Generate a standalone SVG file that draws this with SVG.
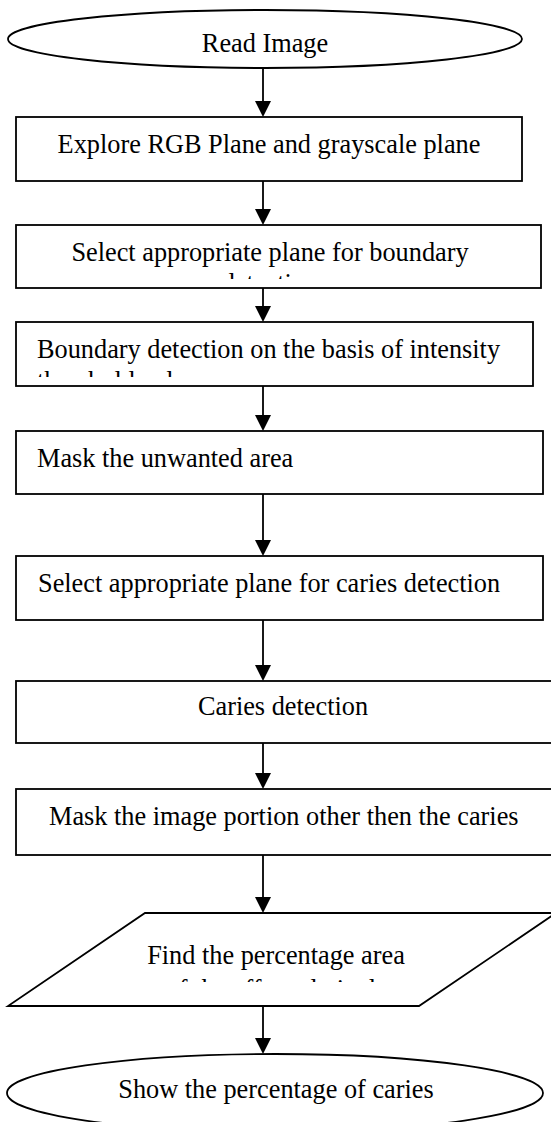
<svg xmlns="http://www.w3.org/2000/svg" width="551" height="1122" viewBox="0 0 551 1122">
<style>
.shape{fill:#fff;stroke:#000;stroke-width:1.8}
.t{font-family:"Liberation Serif","Times New Roman",serif;font-size:26.3px;fill:#000}
.c{text-anchor:middle}
.conn line{stroke:#000;stroke-width:1.8}
</style>
<defs>
<clipPath id="c2"><rect x="16" y="225" width="526" height="54"/></clipPath>
<clipPath id="c3"><rect x="16" y="322" width="518" height="55"/></clipPath>
<clipPath id="c9"><rect x="0" y="913" width="551" height="69"/></clipPath>
</defs>
<rect width="551" height="1122" fill="#fff"/>
<g id="connectors" class="conn">
<line x1="263" y1="68" x2="263" y2="104"/>
<line x1="263" y1="181" x2="263" y2="212"/>
<line x1="263" y1="288" x2="263" y2="309"/>
<line x1="263" y1="386" x2="263" y2="418"/>
<line x1="263" y1="494" x2="263" y2="543"/>
<line x1="263" y1="620" x2="263" y2="668"/>
<line x1="263" y1="743" x2="263" y2="776"/>
<line x1="263" y1="855" x2="263" y2="900"/>
<line x1="263" y1="1006" x2="263" y2="1041"/>
<path d="M255,101 L271,101 L263,117 Z"/>
<path d="M255,209 L271,209 L263,225 Z"/>
<path d="M255,306 L271,306 L263,322 Z"/>
<path d="M255,415 L271,415 L263,431 Z"/>
<path d="M255,540 L271,540 L263,556 Z"/>
<path d="M255,665 L271,665 L263,681 Z"/>
<path d="M255,773 L271,773 L263,789 Z"/>
<path d="M255,897 L271,897 L263,913 Z"/>
<path d="M255,1038 L271,1038 L263,1054 Z"/>
</g>
<g id="n1">
<ellipse class="shape" cx="265" cy="39" rx="257" ry="29"/>
<text class="t c" x="265" y="52">Read Image</text>
</g>
<g id="n2">
<rect class="shape" x="16" y="117" width="506" height="64"/>
<text class="t c" x="269" y="153">Explore RGB Plane and grayscale plane</text>
</g>
<g id="n3">
<rect class="shape" x="16" y="225" width="525" height="63"/>
<g clip-path="url(#c2)">
<text class="t c" x="270" y="261">Select appropriate plane for boundary</text>
<text class="t c" x="270" y="292">detection</text>
</g>
</g>
<g id="n4">
<rect class="shape" x="16" y="322" width="517" height="64"/>
<g clip-path="url(#c3)">
<text class="t" x="37" y="358">Boundary detection on the basis of intensity</text>
<text class="t" x="37" y="390">threshold value</text>
</g>
</g>
<g id="n5">
<rect class="shape" x="16" y="431" width="527" height="63"/>
<text class="t" x="37" y="467">Mask the unwanted area</text>
</g>
<g id="n6">
<rect class="shape" x="16" y="556" width="527" height="64"/>
<text class="t" x="38" y="592">Select appropriate plane for caries detection</text>
</g>
<g id="n7">
<rect class="shape" x="16" y="681" width="545" height="62"/>
<text class="t c" x="283" y="715">Caries detection</text>
</g>
<g id="n8">
<rect class="shape" x="16" y="789" width="545" height="66"/>
<text class="t" x="49" y="825">Mask the image portion other then the caries</text>
</g>
<g id="n9">
<path class="shape" d="M145,913 L556,913 L419,1006 L8,1006 Z"/>
<g clip-path="url(#c9)">
<text class="t c" x="276" y="964">Find the percentage area</text>
<text class="t c" x="276" y="998">of the affected pixels</text>
</g>
</g>
<g id="n10">
<ellipse class="shape" cx="275" cy="1093" rx="268" ry="39"/>
<text class="t c" x="276" y="1098">Show the percentage of caries</text>
</g>
</svg>
